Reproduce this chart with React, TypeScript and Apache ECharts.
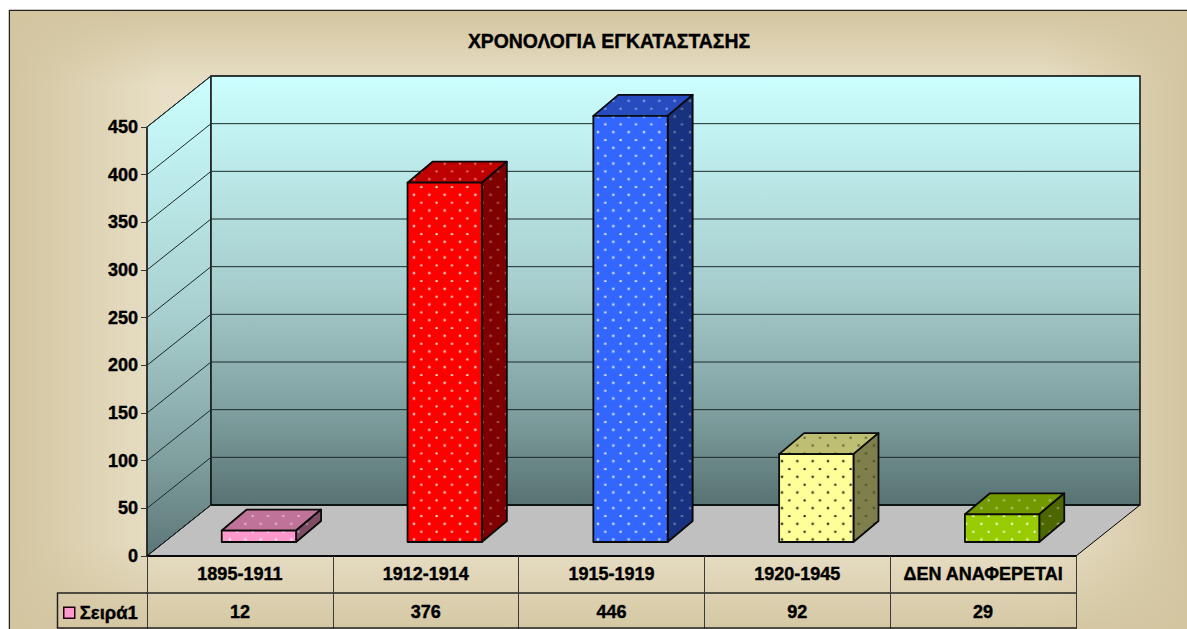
import React, { useEffect, useRef } from "react";
import * as echarts from "echarts";

const titleText = "ΧΡΟΝΟΛΟΓΙΑ ΕΓΚΑΤΑΣΤΑΣΗΣ";
const seriesName = "Σειρά1";
const categories = ["1895-1911", "1912-1914", "1915-1919", "1920-1945", "ΔΕΝ ΑΝΑΦΕΡΕΤΑΙ"];
const values = [12, 376, 446, 92, 29];
const yTicks = [0, 50, 100, 150, 200, 250, 300, 350, 400, 450];

const barColors = ["#FF99CC", "#FF0000", "#3366FF", "#FFFF99", "#99CC00"];
const barTopColors = ["#BF7399", "#BF0000", "#264CBF", "#BFBF73", "#739900"];
const barSideColors = ["#7F4C66", "#7F0000", "#19327F", "#7F7F4C", "#4C6600"];
const dotRgb = ["255,255,255", "255,255,255", "255,255,255", "0,0,0", "255,255,255"];

const FONT = '"Liberation Sans", Arial, sans-serif';
const WALL_DX = 64;
const WALL_DY = 51;
const BAR_DX = 25;
const BAR_DY = 21;
const INK = "#0a0a0a";
const TAN_DARK = "rgba(211,197,160,";

function tile(color: string, rgb: string, dotAlpha: number) {
  const c = document.createElement("canvas");
  c.width = 46;
  c.height = 47;
  const g = c.getContext("2d")!;
  g.fillStyle = color;
  g.fillRect(0, 0, 46, 47);
  g.fillStyle = `rgba(${rgb},${dotAlpha})`;
  const pts = [[22, 44], [22, -3], [0, 20.5], [46, 20.5]];
  for (const [x, y] of pts) {
    g.beginPath();
    g.arc(x, y, 3.6, 0, Math.PI * 2);
    g.fill();
  }
  return { image: c, repeat: "repeat", scaleX: 1 / 3, scaleY: 1 / 3 };
}

export default function App() {
  const ref = useRef<HTMLDivElement>(null);
  useEffect(() => {
    document.body.style.margin = "0";
    document.body.style.background = "#fff";
    const chart = echarts.init(ref.current!, undefined, { renderer: "svg" });

    const frontFills = barColors.map((c, i) => tile(c, dotRgb[i], 0.9));
    const topFills = barTopColors.map((c, i) => tile(c, dotRgb[i], 0.5));
    const sideFills = barSideColors.map((c, i) => tile(c, dotRgb[i], 0.4));

    const wallGrad = (stops: [number, string][]) =>
      new echarts.graphic.LinearGradient(0, 0, 0, 1, stops.map(([offset, color]) => ({ offset, color })));

    const heavy = { textBorderColor: "#000", textBorderWidth: 0.4 };
    const labelStyle = { fontFamily: FONT, fontWeight: "bold" as const, fontSize: 18, color: "#000", ...heavy };
    const tableLine = { color: "#3a3a3a", width: 1 };

    chart.setOption({
      animation: false,
      backgroundColor: "transparent",
      title: {
        text: titleText,
        left: 604,
        top: 26,
        textAlign: "center",
        textStyle: { fontFamily: FONT, fontWeight: "bold", fontSize: 19.4, color: "#000", ...heavy },
      },
      legend: {
        left: 63,
        top: 603,
        padding: 0,
        itemWidth: 11,
        itemHeight: 11,
        itemGap: 0,
        selectedMode: false,
        textStyle: { fontFamily: FONT, fontWeight: "bold", fontSize: 18.5, color: "#000", ...heavy },
        data: [{ name: seriesName, icon: "rect", itemStyle: { color: "#FF99CC", borderColor: "#200010", borderWidth: 1.5 } }],
      },
      grid: [
        { left: 147, top: 127, width: 929, height: 429 },
        { left: 166, top: 112, width: 929, height: 430 },
      ],
      xAxis: [
        {
          type: "category",
          gridIndex: 0,
          data: categories,
          z: 10,
          axisLine: { lineStyle: { color: INK, width: 2 } },
          axisTick: { show: true, length: 37, lineStyle: tableLine },
          axisLabel: { ...labelStyle, margin: 9, interval: 0 },
        },
        {
          type: "category",
          gridIndex: 0,
          position: "bottom",
          offset: 37,
          data: values.map(String),
          z: 10,
          axisLine: { lineStyle: { color: "#222", width: 1.5 } },
          axisTick: { show: true, length: 36, lineStyle: tableLine },
          axisLabel: { ...labelStyle, margin: 10, interval: 0 },
        },
        { type: "category", gridIndex: 1, data: categories, show: false },
      ],
      yAxis: [
        {
          type: "value",
          gridIndex: 0,
          min: 0,
          max: 450,
          interval: 50,
          z: 10,
          axisLine: { show: true, lineStyle: { color: "#222", width: 1.5 } },
          axisTick: { show: true, length: 6, lineStyle: { color: "#333", width: 1 } },
          axisLabel: { ...labelStyle, margin: 9 },
          splitLine: { show: false },
        },
        { type: "value", gridIndex: 1, min: 0, max: 450, interval: 50, show: false, splitLine: { show: false } },
      ],
      graphic: [
        {
          type: "rect",
          z: -20,
          shape: { x: 9.5, y: 10.5, width: 1300, height: 700 },
          style: { fill: "#E8DFC6", stroke: "#222", lineWidth: 1.5 },
        },
        {
          type: "rect",
          z: -19,
          shape: { x: 10, y: 11, width: 1177, height: 618 },
          style: {
            fill: new echarts.graphic.LinearGradient(0, 0, 1, 0, [
              { offset: 0, color: TAN_DARK + "1)" },
              { offset: 0.13, color: TAN_DARK + "0)" },
              { offset: 0.88, color: TAN_DARK + "0)" },
              { offset: 1, color: TAN_DARK + "1)" },
            ]),
          },
        },
        {
          type: "rect",
          z: -18,
          shape: { x: 10, y: 11, width: 1177, height: 618 },
          style: {
            fill: new echarts.graphic.LinearGradient(0, 0, 0, 1, [
              { offset: 0, color: TAN_DARK + "1)" },
              { offset: 0.12, color: TAN_DARK + "0)" },
              { offset: 0.86, color: TAN_DARK + "0)" },
              { offset: 1, color: TAN_DARK + "0.9)" },
            ]),
          },
        },
        {
          type: "polyline",
          z: 20,
          shape: { points: [[147, 593], [57.5, 593], [57.5, 628], [1076, 628]] },
          style: { fill: "none", stroke: "#222", lineWidth: 1.5 },
        },
      ],
      series: [
        {
          type: "custom",
          name: "walls",
          z: 1,
          xAxisIndex: 0,
          yAxisIndex: 0,
          clip: false,
          silent: true,
          data: [[0, 0]],
          renderItem: (params: any) => {
            const { x, y, width, height } = params.coordSys;
            const b = y + height;
            const r = x + width;
            return {
              type: "group",
              children: [
                {
                  type: "polygon",
                  shape: { points: [[x, b], [x, y], [x + WALL_DX, y - WALL_DY], [x + WALL_DX, b - WALL_DY]] },
                  style: {
                    fill: wallGrad([[0, "#CCFFFF"], [0.5, "#A8CFCF"], [0.8, "#809F9F"], [1, "#5C7676"]]),
                    stroke: "#000",
                    lineWidth: 1,
                  },
                },
                {
                  type: "rect",
                  shape: { x: x + WALL_DX, y: y - WALL_DY, width, height },
                  style: {
                    fill: wallGrad([[0, "#CCFFFF"], [0.5, "#A6CCCC"], [0.8, "#7C9C9C"], [1, "#587272"]]),
                    stroke: "#111",
                    lineWidth: 1.5,
                  },
                },
                {
                  type: "polygon",
                  shape: { points: [[x, b], [r, b], [r + WALL_DX, b - WALL_DY], [x + WALL_DX, b - WALL_DY]] },
                  style: { fill: "#C0C0C0", stroke: "#000", lineWidth: 1 },
                },
                {
                  type: "line",
                  shape: { x1: x + WALL_DX, y1: b - WALL_DY, x2: r + WALL_DX, y2: b - WALL_DY },
                  style: { stroke: "#000", lineWidth: 2 },
                },
              ],
            };
          },
        },
        {
          type: "custom",
          name: "gridlines",
          z: 2,
          xAxisIndex: 0,
          yAxisIndex: 0,
          clip: false,
          silent: true,
          data: yTicks.map((t) => [0, t]),
          renderItem: (params: any, api: any) => {
            const { x, width } = params.coordSys;
            const yy = api.coord([0, api.value(1)])[1];
            return {
              type: "polyline",
              shape: { points: [[x, yy], [x + WALL_DX, yy - WALL_DY], [x + WALL_DX + width, yy - WALL_DY]] },
              style: { fill: "none", stroke: "#1c2a2a", lineWidth: 1 },
            };
          },
        },
        {
          type: "custom",
          name: seriesName,
          z: 3,
          xAxisIndex: 2,
          yAxisIndex: 1,
          clip: false,
          silent: true,
          itemStyle: { color: "#FF99CC" },
          data: categories.map((_, i) => [i, values[i]]),
          encode: { x: 0, y: 1 },
          renderItem: (params: any, api: any) => {
            const i = params.dataIndex;
            const top = api.coord([api.value(0), api.value(1)]);
            const base = api.coord([api.value(0), 0]);
            const w = api.size([1, 0])[0] * 0.4;
            const l = top[0] - w / 2;
            const r = top[0] + w / 2;
            const t = top[1];
            const b = base[1];
            const edge = { stroke: "#0a0a0a", lineWidth: 1.8, lineJoin: "round" };
            return {
              type: "group",
              children: [
                {
                  type: "polygon",
                  shape: { points: [[l, t], [r, t], [r + BAR_DX, t - BAR_DY], [l + BAR_DX, t - BAR_DY]] },
                  style: { fill: topFills[i], ...edge },
                },
                {
                  type: "polygon",
                  shape: { points: [[r, t], [r + BAR_DX, t - BAR_DY], [r + BAR_DX, b - BAR_DY], [r, b]] },
                  style: { fill: sideFills[i], ...edge },
                },
                {
                  type: "polygon",
                  shape: { points: [[l, t], [r, t], [r, b], [l, b]] },
                  style: { fill: frontFills[i], ...edge },
                },
              ],
            };
          },
        },
      ],
    });
    return () => chart.dispose();
  }, []);
  return <div ref={ref} style={{ position: "absolute", left: 0, top: 0, width: 1187, height: 629 }} />;
}
